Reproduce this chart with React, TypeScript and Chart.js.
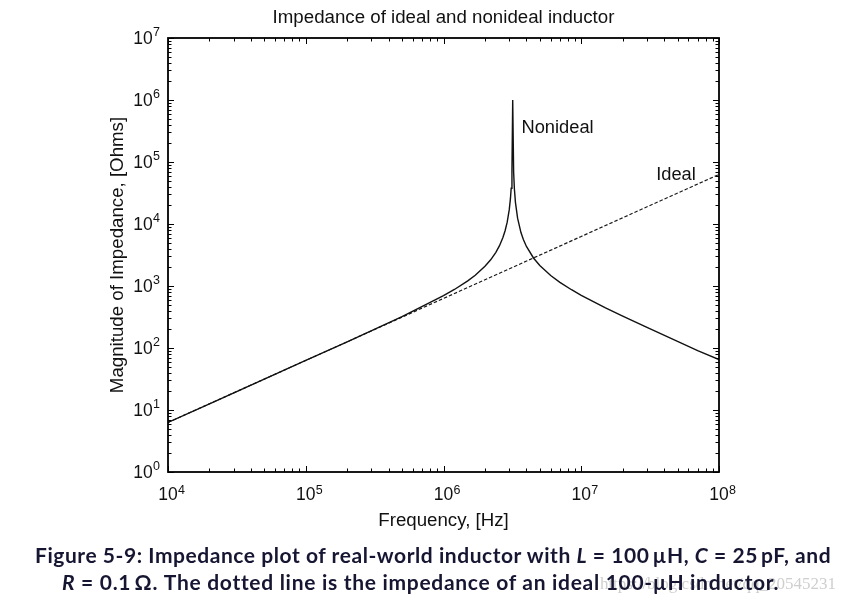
import React, { useEffect, useRef } from "react";
import { Chart, registerables } from "chart.js";

Chart.register(...registerables);

// ---- data ----
const idealFreq = [1e4, 1e5, 1e6, 1e7, 1e8];
const idealZ = [6.3, 63, 630, 6300, 63000];

const nonidealFreq = [
  1e4, 2e4, 5e4, 1e5, 2e5, 5e5, 1e6, 1.2e6, 1.5e6, 1.7e6, 2e6, 2.2e6, 2.4e6, 2.55e6,
  2.7e6, 2.8e6, 2.9e6, 3.0e6, 3.06e6, 3.1e6, 3.14e6, 3.18e6, 3.23e6, 3.27e6, 3.33e6,
  3.45e6, 3.65e6, 3.8e6, 4e6, 4.5e6, 5e6, 6e6, 7e6, 8.5e6, 1e7, 1.5e7, 2e7, 3e7,
  5e7, 7e7, 1e8,
];
const nonidealZ = [
  6.3, 12.6, 31.5, 63, 126, 322, 697, 879, 1211, 1494, 2076, 2647, 3495, 4473,
  6047, 7778, 10720, 16880, 25370, 37820, 73500, 1000000, 68200, 37080, 22140,
  12400, 7280, 5614, 4340, 2831, 2142, 1476, 1147, 871, 708, 444, 327, 215,
  128, 91, 65,
];

const xDecades = [4, 5, 6, 7, 8];
const yDecades = [0, 1, 2, 3, 4, 5, 6, 7];
const minorSteps = [2, 3, 4, 5, 6, 7, 8, 9];

const titleText = "Impedance of ideal and nonideal inductor";
const xTitleText = "Frequency, [Hz]";
const yTitleText = "Magnitude of Impedance, [Ohms]";
const curveLabels = ["Nonideal", "Ideal"];
const curveLabelX = [3.68e6, 3.5e7];
const curveLabelY = [2.9e5, 5.1e4];

const captionLine1 = ["Figure 5-9: Impedance plot of real-world inductor with ", "L", " = 100\u2009\u00b5H, ", "C", " = 25\u2009pF, and"];
const captionLine2 = ["R", " = 0.1\u2009\u03a9. The dotted line is the impedance of an ideal 100-\u00b5H inductor."];
const watermark = "https://blog.csdn.net/qq_20545231";

const FONT = "'Liberation Sans', Arial, Helvetica, sans-serif";

const decorPlugin = {
  id: "decor",
  afterDraw(chart: any) {
    const ctx: CanvasRenderingContext2D = chart.ctx;
    const { left, right, top, bottom } = chart.chartArea;
    const xs = chart.scales.x;
    const ys = chart.scales.y;
    ctx.save();
    ctx.strokeStyle = "#000";
    ctx.fillStyle = "#111";

    // tick marks (inward, all four sides)
    ctx.lineWidth = 1;
    ctx.beginPath();
    const majorLen = 6;
    const minorLen = 3.5;
    xDecades.forEach((d, i) => {
      const vals = [{ v: Math.pow(10, d), len: majorLen }];
      if (i < xDecades.length - 1)
        minorSteps.forEach((m) => vals.push({ v: m * Math.pow(10, d), len: minorLen }));
      vals.forEach(({ v, len }) => {
        const px = Math.round(xs.getPixelForValue(v)) + 0.5;
        ctx.moveTo(px, bottom);
        ctx.lineTo(px, bottom - len);
        ctx.moveTo(px, top);
        ctx.lineTo(px, top + len);
      });
    });
    yDecades.forEach((d, i) => {
      const vals = [{ v: Math.pow(10, d), len: majorLen }];
      if (i < yDecades.length - 1)
        minorSteps.forEach((m) => vals.push({ v: m * Math.pow(10, d), len: minorLen }));
      vals.forEach(({ v, len }) => {
        const py = Math.round(ys.getPixelForValue(v)) + 0.5;
        ctx.moveTo(left, py);
        ctx.lineTo(left + len, py);
        ctx.moveTo(right, py);
        ctx.lineTo(right - len, py);
      });
    });
    ctx.stroke();

    // frame
    ctx.lineWidth = 1.8;
    ctx.strokeRect(left, top, right - left, bottom - top);

    // tick labels
    ctx.textBaseline = "alphabetic";
    const baseFont = `17.5px ${FONT}`;
    const expFont = `12.5px ${FONT}`;
    xDecades.forEach((d) => {
      const px = xs.getPixelForValue(Math.pow(10, d));
      ctx.font = baseFont;
      const w = ctx.measureText("10").width;
      ctx.textAlign = "left";
      ctx.fillText("10", px - w / 2, 500);
      ctx.font = expFont;
      ctx.fillText(String(d), px + w / 2 + 0.3, 494);
    });
    yDecades.forEach((d) => {
      const py = ys.getPixelForValue(Math.pow(10, d));
      ctx.font = expFont;
      const we = ctx.measureText(String(d)).width;
      ctx.textAlign = "left";
      ctx.fillText(String(d), 160 - we, py - 2);
      ctx.font = baseFont;
      ctx.textAlign = "right";
      ctx.fillText("10", 160 - we - 0.3, py + 5.5);
    });

    // titles
    ctx.font = `18.7px ${FONT}`;
    ctx.textAlign = "center";
    const cx = (left + right) / 2;
    ctx.fillText(titleText, cx, 23);
    ctx.fillText(xTitleText, cx, 526);
    ctx.save();
    ctx.translate(123, (top + bottom) / 2);
    ctx.rotate(-Math.PI / 2);
    ctx.fillText(yTitleText, 0, 0);
    ctx.restore();

    // curve labels
    ctx.font = `18.3px ${FONT}`;
    ctx.textAlign = "left";
    curveLabels.forEach((t, i) => {
      ctx.fillText(t, xs.getPixelForValue(curveLabelX[i]), ys.getPixelForValue(curveLabelY[i]));
    });
    ctx.restore();
  },
};

export default function App() {
  const ref = useRef<HTMLCanvasElement | null>(null);

  useEffect(() => {
    document.body.style.margin = "0";
    const canvas = ref.current;
    if (!canvas) return;
    const chart = new Chart(canvas, {
      type: "line",
      data: {
        datasets: [
          {
            label: "Nonideal",
            data: nonidealFreq.map((f, i) => ({ x: f, y: nonidealZ[i] })),
            borderColor: "#111",
            borderWidth: 1.4,
            pointRadius: 0,
            tension: 0,
            fill: false,
          },
          {
            label: "Ideal",
            data: idealFreq.map((f, i) => ({ x: f, y: idealZ[i] })),
            borderColor: "#1a1a1a",
            borderWidth: 1.2,
            borderDash: [3.5, 2],
            pointRadius: 0,
            tension: 0,
            fill: false,
          },
        ],
      },
      options: {
        responsive: false,
        animation: false,
        layout: { padding: { top: 38, right: 125, left: 0, bottom: 0 } },
        plugins: {
          legend: { display: false },
          title: { display: false },
          tooltip: { enabled: false },
        },
        scales: {
          x: {
            type: "logarithmic",
            min: 1e4,
            max: 1e8,
            ticks: { display: false },
            grid: { display: false },
            border: { display: false },
            afterFit: (s: any) => {
              s.height = 136;
            },
          },
          y: {
            type: "logarithmic",
            min: 1,
            max: 1e7,
            ticks: { display: false },
            grid: { display: false },
            border: { display: false },
            afterFit: (s: any) => {
              s.width = 168;
            },
          },
        },
      },
      plugins: [decorPlugin],
    });
    return () => chart.destroy();
  }, []);

  const capStyle: React.CSSProperties = {
    position: "absolute",
    whiteSpace: "nowrap",
    fontFamily: "Lato, 'Open Sans', sans-serif",
    fontWeight: 700,
    fontSize: "21px",
    letterSpacing: "0.55px",
    color: "#161633",
    lineHeight: "26px",
  };

  return (
    <div style={{ position: "relative", width: 844, height: 608, background: "#fff", overflow: "hidden" }}>
      <canvas ref={ref} width={844} height={608} style={{ position: "absolute", left: 0, top: 0 }} />
      <div
        style={{
          position: "absolute",
          right: 8,
          top: 574,
          fontFamily: "'Liberation Serif', 'DejaVu Serif', serif",
          fontSize: "17px",
          color: "#cfcfcf",
          whiteSpace: "nowrap",
        }}
      >
        {watermark}
      </div>
      <div style={{ ...capStyle, left: 35, top: 542 }}>
        {captionLine1.map((t, i) => (i % 2 === 1 ? <i key={i}>{t}</i> : <span key={i}>{t}</span>))}
      </div>
      <div style={{ ...capStyle, left: 62, top: 569, letterSpacing: "0.7px" }}>
        {captionLine2.map((t, i) => (i % 2 === 0 ? <i key={i}>{t}</i> : <span key={i}>{t}</span>))}
      </div>
    </div>
  );
}
